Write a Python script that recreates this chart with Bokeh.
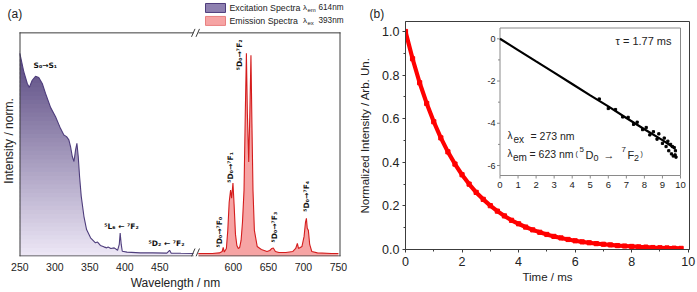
import numpy as np
from bokeh.plotting import figure
from bokeh.layouts import row
from bokeh.models import Range1d, FixedTicker, PrintfTickFormatter
from bokeh.core.properties import value
from bokeh.embed import file_html
from bokeh.resources import INLINE

# ---------------- panel (a): spectra ----------------
exc_nm = [250, 255.7, 260.6, 263.5, 267.7, 272.4, 277, 282, 286.7, 294,
          301, 308, 312.9, 316.7, 320, 322.4, 324.9, 327.3, 329.6, 331.5,
          333.4, 335.3, 337.7, 341.5, 345.3, 351, 358, 361, 365, 370,
          374, 376, 380, 384.8, 389.6, 392, 393.3, 394.8, 396.3, 403,
          422, 440, 460, 463.9, 466, 480, 498]
exc_int = [1.0, 0.907, 0.85, 0.83, 0.866, 0.886, 0.88, 0.85, 0.80, 0.73,
           0.685, 0.627, 0.594, 0.586, 0.57, 0.536, 0.487, 0.462, 0.52, 0.553,
           0.487, 0.388, 0.289, 0.19, 0.124, 0.083, 0.058, 0.062, 0.045, 0.038,
           0.033, 0.037, 0.030, 0.033, 0.021, 0.05, 0.107, 0.05, 0.016, 0.012,
           0.008, 0.008, 0.007, 0.021, 0.007, 0.006, 0.005]

em_nm = [550, 570, 580, 584, 585.5, 587, 590, 592, 594, 596,
         597.5, 599.4, 601, 603, 605, 607, 609, 611, 613, 615.2,
         617, 618.6, 620, 621.9, 623.5, 625.1, 626.5, 628, 630, 634,
         640, 648, 652, 655, 657, 660, 665, 675, 685, 689,
         691.4, 693, 698, 701, 703, 704.3, 705.5, 707.1, 709, 712,
         720, 740, 750]
em_int = [0.005, 0.005, 0.008, 0.015, 0.035, 0.012, 0.03, 0.12, 0.26, 0.32,
          0.28, 0.355, 0.25, 0.1, 0.045, 0.03, 0.035, 0.07, 0.16, 0.32,
          0.7, 1.0, 0.7, 0.46, 0.7, 0.99, 0.65, 0.32, 0.12, 0.04,
          0.025, 0.015, 0.02, 0.03, 0.032, 0.015, 0.01, 0.01, 0.015, 0.03,
          0.055, 0.03, 0.04, 0.09, 0.16, 0.18, 0.13, 0.12, 0.05, 0.015,
          0.008, 0.005, 0.005]

wl_ticks = [250, 300, 350, 400, 450, 600, 650, 700, 750]

# ---------------- panel (b): luminescence decay ----------------
t_ms = [0, 0.25, 0.5, 0.75, 1.0, 1.25, 1.5, 1.75, 2.0, 2.25, 2.5, 2.75, 3.0, 3.25,
        3.5, 3.75, 4.0, 4.25, 4.5, 4.75, 5.0, 5.25, 5.5, 5.75, 6.0, 6.25, 6.5, 6.75,
        7.0, 7.25, 7.5, 7.75, 8.0, 8.25, 8.5, 8.75, 9.0, 9.25, 9.5, 9.75]
decay = [1.0, 0.875, 0.765, 0.67, 0.586, 0.512, 0.448, 0.392, 0.343, 0.30, 0.262, 0.23,
         0.201, 0.176, 0.154, 0.134, 0.118, 0.103, 0.09, 0.079, 0.069, 0.06, 0.053, 0.046,
         0.04, 0.035, 0.031, 0.027, 0.024, 0.021, 0.018, 0.016, 0.014, 0.012, 0.011, 0.009,
         0.008, 0.007, 0.006, 0.005]

# inset: ln(I) against time
ln_t = [0, 1, 2, 3, 4, 5, 6, 7, 8, 9, 9.7]
ln_i = [0, -0.535, -1.07, -1.6, -2.14, -2.68, -3.2, -3.75, -4.28, -4.8, -5.2]
noise_t = [5.5, 6.0, 6.4, 6.8, 7.1, 7.4, 7.6, 7.9, 8.1, 8.3, 8.5, 8.7, 8.8, 9.0,
           9.1, 9.2, 9.3, 9.35, 9.45, 9.5, 9.55, 9.6, 9.65, 9.7, 9.72, 9.75]
noise_ln = [-2.85, -3.3, -3.35, -3.7, -3.72, -4.05, -3.95, -4.3, -4.2, -4.55, -4.4, -4.75, -4.5,
            -4.95, -4.7, -5.1, -4.85, -5.3, -5.0, -5.45, -5.1, -5.55, -5.15, -5.5, -5.3, -5.6]

BREAK = 45.0  # nm removed from the wavelength axis between the two spectra


def vx(nm):
    a = np.asarray(nm, dtype=float)
    return np.where(a < 525, a, a - BREAK)


FONT = "Liberation Sans"
DARK = "#3c3c3c"
TXT = "#222222"

# pixel helpers for panel (a): the frame covers the whole width and everything above the axis
A_PX0, A_V0, A_K = 19.0, 249.5, 0.7001
def ax(px):
    return A_V0 + (px - A_PX0) / A_K
def ay(py):
    return (255.0 - py) / 202.0

pa = figure(width=350, height=292, output_backend="svg", toolbar_location=None,
            x_range=Range1d(ax(0), ax(350)), y_range=Range1d(ay(257), ay(0)),
            min_border_left=0, min_border_right=0, min_border_top=0, min_border_bottom=35,
            y_axis_location=None)
pa.frame_align = False
pa.outline_line_color = None
pa.grid.visible = False

# excitation: vertical colour ramp under the curve, masked above it
lo_c = np.array([238, 232, 247])
hi_c = np.array([88, 72, 128])
nb = 48
edges = np.linspace(ay(257), 1.0, nb + 1)
step = edges[1] - edges[0]
cols = []
for k in range(nb):
    f = (0.5 * (edges[k] + edges[k + 1]) - edges[0]) / (edges[-1] - edges[0])
    c = (lo_c + (hi_c - lo_c) * f).astype(int)
    cols.append("#%02x%02x%02x" % tuple(c))
pa.quad(left=exc_nm[0], right=exc_nm[-1], bottom=edges[:-1], top=edges[1:] + 0.6 * step,
        fill_color=cols, line_color=None)
mask_x = list(exc_nm) + [exc_nm[-1] + 4]
mask_lo = list(exc_int) + [ay(260)]
pa.varea(x=mask_x, y1=mask_lo, y2=1.06, fill_color="white")
pa.line(exc_nm, exc_int, line_color="#4e3d7c", line_width=1.1)

# emission
em_v = vx(em_nm)
pa.varea(x=em_v, y1=ay(257), y2=em_int, fill_color="#f6a4a4")
pa.line(em_v, em_int, line_color="#d41c1c", line_width=1.1)

# frame with axis break
gap0, gap1 = 193.0, 198.0
for py in (32.5, 256.5):
    pa.segment(x0=[ax(19), ax(gap1)], x1=[ax(gap0), ax(340)], y0=[ay(py)] * 2, y1=[ay(py)] * 2,
               line_color=DARK, line_width=1)
pa.segment(x0=[ax(19.5), ax(339.5)], x1=[ax(19.5), ax(339.5)], y0=[ay(257)] * 2, y1=[ay(32)] * 2,
           line_color=DARK, line_width=1)
for py in (32.5, 253.0):
    pa.segment(x0=[ax(191), ax(195.5)], x1=[ax(194.5), ax(199)], y0=[ay(py + 4)] * 2,
               y1=[ay(py - 4)] * 2, line_color=DARK, line_width=1)

pa.xaxis.ticker = FixedTicker(ticks=[float(vx(t)) for t in wl_ticks])
pa.xaxis.major_label_overrides = {float(vx(t)): str(t) for t in wl_ticks}
pa.xaxis.axis_line_color = None
pa.xaxis.major_tick_line_color = None
pa.xaxis.minor_tick_line_color = None
pa.xaxis.major_tick_out = 0
pa.xaxis.major_tick_in = 0
pa.xaxis.major_label_standoff = 6
pa.xaxis.major_label_text_font = FONT
pa.xaxis.major_label_text_font_size = "10.5px"
pa.xaxis.major_label_text_color = TXT
pa.xaxis.axis_label = "Wavelength / nm"
pa.xaxis.axis_label_text_font = FONT
pa.xaxis.axis_label_text_font_size = "12px"
pa.xaxis.axis_label_text_font_style = "normal"
pa.xaxis.axis_label_text_color = TXT
pa.xaxis.axis_label_standoff = 2

pa.text(x=[ax(8)], y=[ay(141)], text=["Intensity / norm."], angle=np.pi / 2,
        text_align="center", text_baseline="middle", text_font=value(FONT),
        text_font_size="12px", text_color=TXT)
pa.text(x=[ax(7)], y=[ay(14)], text=["(a)"], text_align="left", text_baseline="middle",
        text_font=value(FONT), text_font_size="12px", text_color=TXT)

# legend
pa.quad(left=[ax(205)], right=[ax(225)], bottom=[ay(12)], top=[ay(3)],
        fill_color="#8e80b0", line_color="#4e3d7c", line_width=1)
pa.quad(left=[ax(205)], right=[ax(225)], bottom=[ay(25)], top=[ay(16)],
        fill_color="#f6a4a4", line_color="#e88080", line_width=1)
leg = [("Excitation Spectra", 229, 7.5, "8.8px"), ("λ", 302.5, 7.5, "8px"), ("em", 307, 9.5, "6px"),
       ("614nm", 318, 7.5, "8.2px"),
       ("Emission Spectra", 229, 20.5, "8.8px"), ("λ", 302.5, 20.5, "8px"), ("ex", 307, 22.5, "6px"),
       ("393nm", 318, 20.5, "8.2px")]
for s, px, py, fs in leg:
    pa.text(x=[ax(px)], y=[ay(py)], text=[s], text_align="left", text_baseline="middle",
            text_font=value(FONT), text_font_size=fs, text_color=TXT)

# transition labels
horiz = [("S₀→S₁", 33, 65, "left"), ("⁵L₆ ← ⁷F₂", 121, 227, "center"),
         ("⁵D₂ ← ⁷F₂", 166, 244, "center")]
for s, px, py, al in horiz:
    pa.text(x=[ax(px)], y=[ay(py)], text=[s], text_align=al, text_baseline="middle",
            text_font=value("DejaVu Sans"), text_font_size="7.5px", text_font_style="bold",
            text_color="#111111")
vert = [("⁵D₀→⁷F₂", 239, 70), ("⁵D₀→⁷F₁", 230, 183), ("⁵D₀→⁷F₀", 218.5, 248),
        ("⁵D₀→⁷F₃", 274, 243), ("⁵D₀→⁷F₄", 306, 212)]
for s, px, py in vert:
    pa.text(x=[ax(px)], y=[ay(py)], text=[s], angle=np.pi / 2, text_align="left",
            text_baseline="middle", text_font=value("DejaVu Sans"), text_font_size="7.5px",
            text_font_style="bold", text_color="#111111")

# ---------------- panel (b) ----------------
def bx(gx):
    return (gx - 405.0) / 28.27
def by(gy):
    return (249.0 - gy) / 218.0

pb = figure(width=347, height=292, output_backend="svg", toolbar_location=None,
            x_range=Range1d(bx(405), bx(689)), y_range=Range1d(by(249), by(21)),
            min_border_left=55, min_border_right=8, min_border_top=21, min_border_bottom=43,
            title="(b)")
pb.frame_align = False
pb.grid.visible = False
pb.outline_line_color = DARK
pb.outline_line_width = 1
pb.title.text_font = FONT
pb.title.text_font_size = "12px"
pb.title.text_font_style = "normal"
pb.title.text_color = TXT
pb.title.offset = -36
pb.title.standoff = 1

pb.line(t_ms, decay, line_color="#ff0000", line_width=4.2)
pb.scatter(t_ms, decay, marker="square", size=4.2, color="#ff0000")

for a in (pb.xaxis, pb.yaxis):
    a.axis_line_color = DARK
    a.major_tick_line_color = DARK
    a.minor_tick_line_color = DARK
    a.major_tick_in = 0
    a.major_tick_out = 3
    a.minor_tick_in = 0
    a.minor_tick_out = 2
    a.major_label_text_font = FONT
    a.major_label_text_font_size = "12.5px"
    a.major_label_text_color = TXT
    a.axis_label_text_font = FONT
    a.axis_label_text_font_size = "11.5px"
    a.axis_label_text_font_style = "normal"
    a.axis_label_text_color = TXT
pb.xaxis.ticker = FixedTicker(ticks=[0, 2, 4, 6, 8, 10], minor_ticks=[1, 3, 5, 7, 9])
pb.yaxis.ticker = FixedTicker(ticks=[0, 0.2, 0.4, 0.6, 0.8, 1.0],
                              minor_ticks=[0.1, 0.3, 0.5, 0.7, 0.9])
pb.yaxis.formatter = PrintfTickFormatter(format="%.1f")
pb.xaxis.major_label_standoff = 4
pb.yaxis.major_label_standoff = 3
pb.xaxis.axis_label = "Time / ms"
pb.xaxis.axis_label_standoff = 2
pb.yaxis.axis_label = "Normalized Intensity / Arb. Un."
pb.yaxis.axis_label_standoff = 8

# inset drawn on its own ranges
def ix(gx):
    return (gx - 499.5) / 18.05
def iy(gy):
    return (38.3 - gy) / 21.12

pb.extra_x_ranges = {"ix": Range1d(ix(405), ix(689))}
pb.extra_y_ranges = {"iy": Range1d(iy(249), iy(21))}
kw = dict(x_range_name="ix", y_range_name="iy")
IC = "#8a8a8a"
pb.quad(left=[0], right=[10], bottom=[iy(175)], top=[iy(27.5)], fill_color="white",
        line_color=IC, line_width=1, **kw)
pb.line(ln_t, ln_i, line_color="black", line_width=2.2, **kw)
pb.scatter(noise_t, noise_ln, marker="square", size=2.2, color="black", **kw)

yt_major = [0, -2, -4, -6]
yt_minor = [-1, -3, -5]
xt_major = list(range(0, 11))
pb.segment(x0=[ix(499.5)] * 4, x1=[ix(496.5)] * 4, y0=yt_major, y1=yt_major, line_color=IC, **kw)
pb.segment(x0=[ix(499.5)] * 3, x1=[ix(497.5)] * 3, y0=yt_minor, y1=yt_minor, line_color=IC, **kw)
pb.segment(x0=xt_major, x1=xt_major, y0=[iy(175)] * 11, y1=[iy(178)] * 11, line_color=IC, **kw)
pb.text(x=[ix(495)] * 4, y=yt_major, text=[str(v) for v in yt_major], text_align="right",
        text_baseline="middle", text_font=value(FONT), text_font_size="9px",
        text_color=TXT, **kw)
pb.text(x=xt_major, y=[iy(184)] * 11, text=[str(v) for v in xt_major], text_align="center",
        text_baseline="middle", text_font=value(FONT), text_font_size="9.5px",
        text_color=TXT, **kw)

pb.text(x=[ix(615)], y=[iy(40)], text=["τ = 1.77 ms"], text_align="left", text_baseline="middle",
        text_font=value(FONT), text_font_size="11px", text_color=TXT, **kw)
pieces = [("λ", 507, 135, "10px"), ("ex", 513, 138.5, "10px"), ("= 273 nm", 530, 135, "10.5px"),
          ("λ", 507, 153, "10px"), ("em", 512.5, 156.5, "10px"), ("= 623 nm", 529, 153, "10.5px"),
          ("(", 575, 153, "7px"), ("5", 579, 149, "8px"), ("D", 585, 154, "11px"),
          ("0", 593, 157, "9px"), ("→", 603, 154, "11px"), ("7", 621, 149, "8px"),
          ("F", 627, 154, "11px"), ("2", 633.5, 157, "9px"), (")", 640, 153, "7px")]
for s, gx, gy, fs in pieces:
    pb.text(x=[ix(gx)], y=[iy(gy)], text=[s], text_align="left", text_baseline="middle",
            text_font=value(FONT), text_font_size=fs, text_color=TXT, **kw)

layout = row(pa, pb)
open("out.html", "w").write(file_html(layout, INLINE))
